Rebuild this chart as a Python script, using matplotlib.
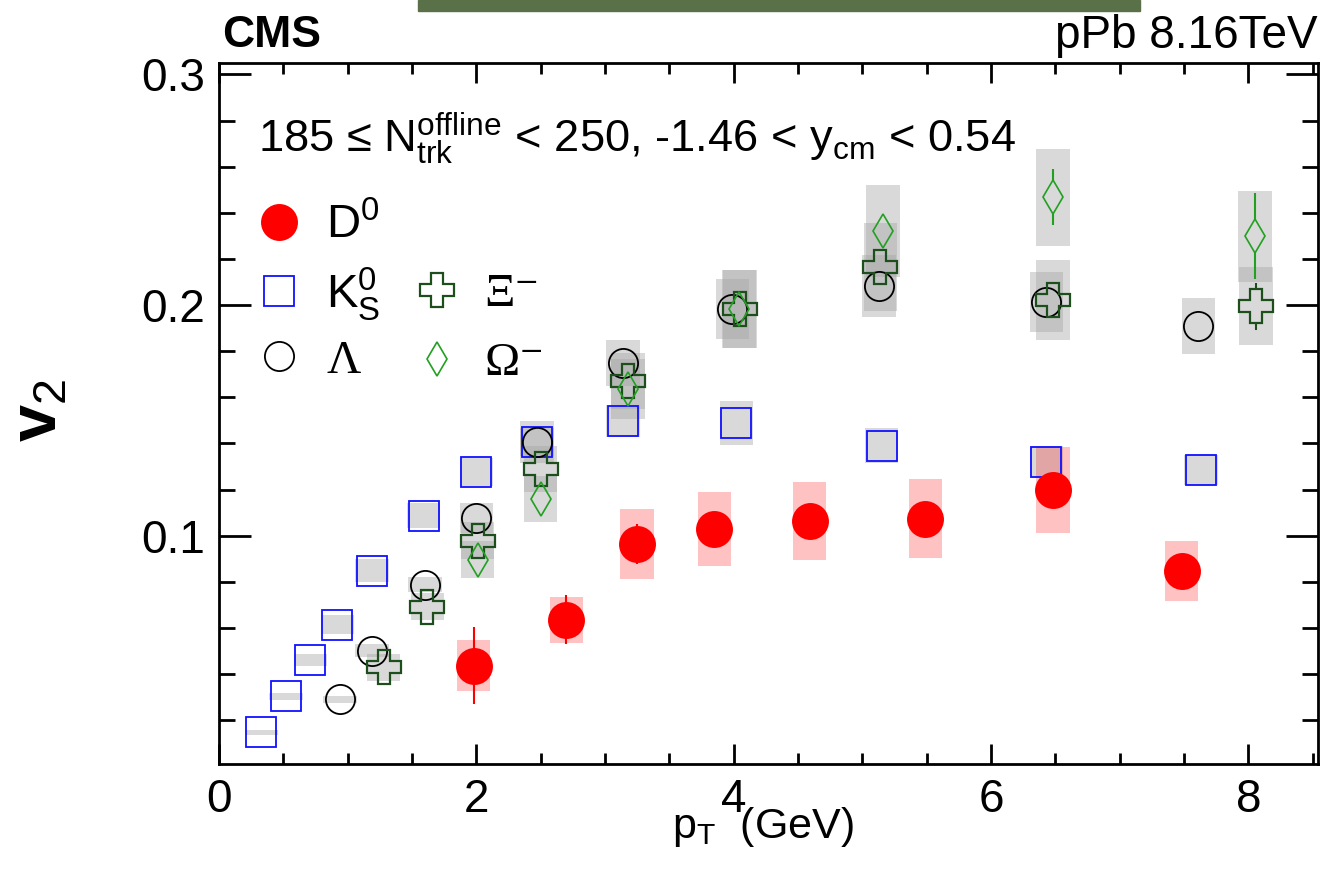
import matplotlib
matplotlib.use('Agg')
import numpy as np
from matplotlib import pyplot as plt
from matplotlib.patches import Rectangle
from matplotlib.ticker import MultipleLocator

plt.rcParams['font.family'] = ['Liberation Sans', 'DejaVu Sans']
plt.rcParams['mathtext.fontset'] = 'custom'
plt.rcParams['mathtext.rm'] = 'Liberation Sans'
plt.rcParams['mathtext.it'] = 'Liberation Sans'
plt.rcParams['mathtext.bf'] = 'Liberation Sans:bold'

# D0
d0_pt = [1.98, 2.70, 3.25, 3.85, 4.59, 5.49, 6.48, 7.48]
d0_v2 = [0.0437, 0.0636, 0.0965, 0.1030, 0.1065, 0.1074, 0.1199, 0.0848]
d0_stat = [0.0167, 0.0105, 0.0087, 0.006, 0.006, 0.006, 0.007, 0.006]
d0_sys = [0.011, 0.010, 0.0152, 0.016, 0.017, 0.017, 0.0187, 0.013]

# K0S
k0_pt = [0.33, 0.52, 0.71, 0.92, 1.19, 1.59, 2.00, 2.47, 3.14, 4.02, 5.15, 6.43, 7.63]
k0_v2 = [0.0147, 0.0303, 0.0459, 0.0615, 0.0848, 0.1087, 0.1277, 0.1407,
         0.1498, 0.1489, 0.1390, 0.1320, 0.1286]
k0_stat = [0.0005] * 13
k0_sys = [0.001, 0.0015, 0.0026, 0.0043, 0.005, 0.0055, 0.006, 0.006,
          0.007, 0.0095, 0.0075, 0.007, 0.0065]

# Lambda
lam_pt = [0.94, 1.19, 1.60, 2.00, 2.47, 3.14, 3.99, 5.13, 6.43, 7.61]
lam_v2 = [0.0290, 0.0502, 0.0788, 0.1078, 0.1407, 0.1749, 0.1983, 0.2082, 0.2013, 0.1909]
lam_stat = [0.001, 0.001, 0.0015, 0.002, 0.002, 0.003, 0.003, 0.004, 0.005, 0.005]
lam_sys = [0.0015, 0.003, 0.0032, 0.0065, 0.009, 0.010, 0.013, 0.0135, 0.013, 0.012]

# Xi-
xi_pt = [1.28, 1.62, 2.01, 2.50, 3.18, 4.05, 5.14, 6.48, 8.06]
xi_v2 = [0.0429, 0.0693, 0.0978, 0.1290, 0.1671, 0.1983, 0.2165, 0.2022, 0.1996]
xi_stat = [0.002, 0.002, 0.003, 0.003, 0.004, 0.004, 0.005, 0.006, 0.0102]
xi_sys = [0.006, 0.006, 0.008, 0.010, 0.012, 0.017, 0.019, 0.0174, 0.017]

# Omega-
om_pt = [2.01, 2.50, 3.18, 4.04, 5.16, 6.48, 8.05]
om_v2 = [0.0896, 0.1160, 0.1636, 0.1983, 0.2320, 0.2468, 0.2299]
om_stat = [0.003, 0.003, 0.004, 0.005, 0.006, 0.0122, 0.0185]
om_sys = [0.008, 0.010, 0.013, 0.017, 0.020, 0.021, 0.0197]

box_w = 0.26

fig = plt.figure(figsize=(13.31, 8.77), dpi=100)
ax = fig.add_axes([0.1645, 0.1288, 0.8257, 0.7994])


def sys_boxes(x, y, s, color, alpha):
    ax.bar(x, 2 * np.array(s), bottom=np.array(y) - np.array(s), width=box_w,
           color=color, alpha=alpha, linewidth=0, zorder=1)


def stat_bars(x, y, e, gap, color):
    # ROOT style: the error line stops at the marker edge
    x, y, e = np.array(x), np.array(y), np.array(e)
    m = e > gap
    ax.vlines(x[m], y[m] + gap, y[m] + e[m], color=color, lw=1.5, zorder=2)
    ax.vlines(x[m], y[m] - e[m], y[m] - gap, color=color, lw=1.5, zorder=2)


sys_boxes(k0_pt, k0_v2, k0_sys, '#a5a5a5', 0.42)
sys_boxes(lam_pt, lam_v2, lam_sys, '#a5a5a5', 0.42)
sys_boxes(xi_pt, xi_v2, xi_sys, '#a5a5a5', 0.42)
sys_boxes(om_pt, om_v2, om_sys, '#a5a5a5', 0.42)
sys_boxes(d0_pt, d0_v2, d0_sys, '#ff0000', 0.24)

stat_bars(k0_pt, k0_v2, k0_stat, 0.0065, '#1010ff')
stat_bars(lam_pt, lam_v2, lam_stat, 0.0065, 'black')
stat_bars(xi_pt, xi_v2, xi_stat, 0.0074, '#1c4f1c')
stat_bars(om_pt, om_v2, om_stat, 0.0074, '#22a022')
ax.errorbar(d0_pt, d0_v2, yerr=d0_stat, fmt='none', ecolor='#ff0000', elinewidth=1.5, zorder=2)

h_k0, = ax.plot(k0_pt, k0_v2, ls='none', marker='s', ms=21, mfc='none', mec='#1010ff', mew=1.3, zorder=3)
h_lam, = ax.plot(lam_pt, lam_v2, ls='none', marker='o', ms=21, mfc='none', mec='black', mew=1.3, zorder=3)
h_xi, = ax.plot(xi_pt, xi_v2, ls='none', marker='P', ms=25, mfc='none', mec='#1c4f1c', mew=1.6, zorder=3)
h_om, = ax.plot(om_pt, om_v2, ls='none', marker='d', ms=17.3, mfc='none', mec='#22a022', mew=1.2, zorder=3)
h_d0, = ax.plot(d0_pt, d0_v2, ls='none', marker='o', ms=26.6, mfc='#ff0000', mec='#ff0000', mew=0, zorder=4)

ax.set_xlim(0, 8.54)
ax.set_ylim(0.001, 0.305)
ax.set_xticks([0, 2, 4, 6, 8])
ax.set_yticks([0.1, 0.2, 0.3])
ax.set_yticklabels(['0.1', '0.2', '0.3'])
ax.xaxis.set_minor_locator(MultipleLocator(0.5))
ax.yaxis.set_minor_locator(MultipleLocator(0.02))
for sp in ax.spines.values():
    sp.set_linewidth(2)
ax.tick_params(which='both', direction='in', top=True, right=True, width=2, labelsize=33)
ax.tick_params(axis='x', which='major', length=14.5, pad=10)
ax.tick_params(axis='x', which='minor', length=8)
ax.tick_params(axis='y', which='major', length=23, pad=10)
ax.tick_params(axis='y', which='minor', length=11.5)

ax.set_xlabel(r'p$_{\mathrm{T}}$  (GeV)', fontsize=31)
ax.xaxis.set_label_coords(0.495, -0.058)
ax.set_ylabel(r'v$_{2}$', fontsize=48, fontweight='bold')
ax.yaxis.set_label_coords(-0.135, 0.505)

ax.text(0.0355, 0.873,
        r'185 ≤ N$_{\mathrm{trk}}^{\mathrm{offline}}$ < 250, -1.46 < y$_{\mathrm{cm}}$ < 0.54',
        transform=ax.transAxes, fontsize=32.6, ha='left', va='baseline')

fig.text(0.1668, 0.946, 'CMS', fontsize=32, fontweight='bold', ha='left', va='baseline')
fig.text(0.9902, 0.945, 'pPb 8.16TeV', fontsize=33, ha='right', va='baseline')

# green strip at the top
fig.patches.append(Rectangle((0.314, 0.9875), 0.5425, 0.0125, transform=fig.transFigure,
                             color='#5a7048', zorder=0))

leg1 = ax.legend([h_d0, h_k0, h_lam], [r'D$^{0}$', r'K$^{0}_{\mathrm{S}}$', 'Λ'],
                 loc='upper left', bbox_to_anchor=(0.033, 0.800), frameon=False,
                 fontsize=34, handlelength=1.0, handletextpad=0.5, labelspacing=0.36,
                 borderpad=0, borderaxespad=0)
leg1.get_texts()[2].set_family(['Liberation Serif', 'DejaVu Serif'])
ax.add_artist(leg1)
leg2 = ax.legend([h_xi, h_om], ['Ξ⁻', 'Ω⁻'],
                 loc='upper left', bbox_to_anchor=(0.177, 0.700), frameon=False,
                 fontsize=34, handlelength=1.0, handletextpad=0.5, labelspacing=0.55,
                 borderpad=0, borderaxespad=0)
for t in leg2.get_texts():
    t.set_family(['Liberation Serif', 'DejaVu Serif'])

fig.savefig('out.png', dpi=100)
